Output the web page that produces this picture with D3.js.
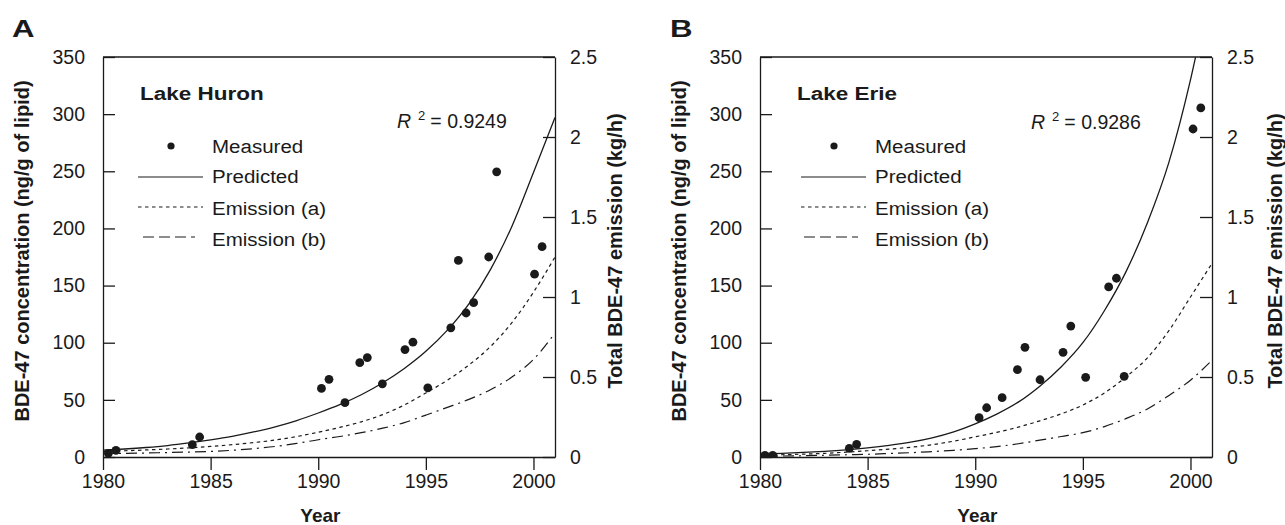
<!DOCTYPE html>
<html>
<head>
<meta charset="utf-8">
<script src="https://cdn.jsdelivr.net/npm/d3@7/dist/d3.min.js"></script>
<style>
    body { margin: 0; background: #fff; }
    svg text { font-family: "Liberation Sans", Arial, Helvetica, sans-serif; fill: #1a1a1a; }
</style>
</head>
<body>
<svg id="chart" width="1285" height="525"></svg>
<script>
// model years shared by all predicted / emission curves
const modelYears = [1980, 1981, 1982, 1983, 1984, 1985, 1986, 1987, 1988, 1989, 1990,
    1991, 1992, 1993, 1994, 1995, 1996, 1997, 1998, 1999, 2000, 2001];

const yearTicks = [1980, 1985, 1990, 1995, 2000];
const concTicks = [0, 50, 100, 150, 200, 250, 300, 350];
const emissionTicks = [0, 0.5, 1, 1.5, 2, 2.5];
const legendLabels = ["Measured", "Predicted", "Emission (a)", "Emission (b)"];

// Lake Huron
const huronMeasured = [
    [1980.25, 3.2], [1980.6, 5.8], [1984.15, 10.8], [1984.49, 17.5],
    [1990.15, 60], [1990.5, 68], [1991.24, 47.5], [1991.93, 82.5], [1992.28, 87],
    [1992.98, 64], [1994.03, 94], [1994.4, 100.5], [1995.09, 60.5], [1996.16, 113],
    [1996.51, 172], [1996.87, 126], [1997.22, 135], [1997.92, 175], [1998.29, 249.5],
    [2000.05, 160], [2000.4, 184]
];
const huronPredicted = [6, 7, 8.3, 10, 12.3, 15, 18.1, 21.9, 26.4, 31.9, 38.5,
    45.8, 54.5, 65, 77.5, 92.5, 111, 134, 164, 202, 249, 297];
const huronEmissionA = [0.035, 0.039, 0.044, 0.05, 0.057, 0.066, 0.077, 0.09, 0.106, 0.128, 0.155,
    0.185, 0.22, 0.265, 0.325, 0.4, 0.48, 0.575, 0.69, 0.84, 1.03, 1.25];
const huronEmissionB = [0.021, 0.023, 0.025, 0.028, 0.031, 0.035, 0.042, 0.052, 0.066, 0.085, 0.108,
    0.128, 0.152, 0.18, 0.215, 0.262, 0.31, 0.36, 0.42, 0.5, 0.61, 0.775];

// Lake Erie
const erieMeasured = [
    [1980.23, 1.5], [1980.59, 1.5], [1984.15, 7.6], [1984.49, 11.1],
    [1990.18, 34.4], [1990.53, 43.1], [1991.25, 51.9], [1991.96, 76.4], [1992.31, 96],
    [1993.01, 67.6], [1994.08, 91.6], [1994.44, 114.6], [1995.13, 69.7], [1996.2, 148.8],
    [1996.56, 156.4], [1996.92, 70.6], [2000.12, 287], [2000.48, 305.4]
];
const eriePredicted = [2.5, 3.2, 4, 5, 6.3, 8, 10.2, 13, 16.8, 22, 29,
    37.5, 48, 62, 79, 100, 128, 162, 205, 258, 330, 420];
const erieEmissionA = [0.011, 0.014, 0.018, 0.023, 0.03, 0.039, 0.049, 0.061, 0.077, 0.099, 0.126,
    0.154, 0.187, 0.226, 0.27, 0.325, 0.4, 0.5, 0.62, 0.79, 1.0, 1.21];
const erieEmissionB = [0.004, 0.006, 0.008, 0.011, 0.014, 0.017, 0.022, 0.027, 0.034, 0.042, 0.052,
    0.065, 0.083, 0.105, 0.128, 0.152, 0.19, 0.24, 0.3, 0.385, 0.48, 0.605];

const INK = "#1a1a1a";

// the original lettering is drawn a little wider than the font, so scale around the anchor
function widen(sel, k) {
    sel.each(function () {
        const t = d3.select(this);
        const x = +t.attr("x") || 0;
        t.attr("transform", `translate(${x * (1 - k)},0) scale(${k},1)`);
    });
    return sel;
}

class LakePanel {
    constructor(svg, cfg) {
        this.svg = svg;
        this.cfg = cfg;
        this.top = 57;
        this.bottom = 457;
    }

    draw() {
        const c = this.cfg;
        const svg = this.svg;

        this.x = d3.scaleLinear().domain([1980, 2001]).range([c.left, c.right]);
        this.y = d3.scaleLinear().domain([0, 350]).range([this.bottom, this.top]);
        this.yR = d3.scaleLinear().domain([0, 2.5]).range([this.bottom, this.top]);

        const g = svg.append("g").attr("class", "panel-" + c.id);

        const clipId = "clip-" + c.id;
        svg.append("clipPath").attr("id", clipId)
            .append("rect")
            .attr("x", c.left).attr("y", this.top)
            .attr("width", c.right - c.left).attr("height", this.bottom - this.top);

        // axes
        const xAxis = g.append("g")
            .attr("transform", `translate(0,${this.bottom})`)
            .call(d3.axisBottom(this.x).tickValues(yearTicks).tickFormat(d3.format("d"))
                .tickSize(13).tickSizeOuter(0).tickPadding(4));
        const yAxis = g.append("g")
            .attr("transform", `translate(${c.left},0)`)
            .call(d3.axisLeft(this.y).tickValues(concTicks)
                .tickSize(-12).tickSizeOuter(0).tickPadding(18));
        const yAxisR = g.append("g")
            .attr("transform", `translate(${c.right},0)`)
            .call(d3.axisRight(this.yR).tickValues(emissionTicks).tickFormat(d => String(d))
                .tickSize(-12).tickSizeOuter(0).tickPadding(15));

        [xAxis, yAxis, yAxisR].forEach(a => {
            a.selectAll("path, line").attr("stroke", INK).attr("stroke-width", 1.3);
            a.selectAll("text")
                .attr("fill", INK)
                .style("font-size", "19.5px")
                .style("font-family", "'Liberation Sans', Arial, sans-serif");
        });

        g.append("line")
            .attr("x1", c.left).attr("x2", c.right)
            .attr("y1", this.top).attr("y2", this.top)
            .attr("stroke", INK).attr("stroke-width", 1.3);

        // curves
        const curves = g.append("g").attr("clip-path", `url(#${clipId})`);

        const concLine = d3.line()
            .x((d, i) => this.x(modelYears[i]))
            .y(d => this.y(d))
            .curve(d3.curveMonotoneX);
        const emisLine = d3.line()
            .x((d, i) => this.x(modelYears[i]))
            .y(d => this.yR(d))
            .curve(d3.curveMonotoneX);

        curves.append("path")
            .datum(c.emissionB)
            .attr("d", emisLine)
            .attr("fill", "none").attr("stroke", INK).attr("stroke-width", 1.2)
            .attr("stroke-dasharray", "11,5,2,5");
        curves.append("path")
            .datum(c.emissionA)
            .attr("d", emisLine)
            .attr("fill", "none").attr("stroke", INK).attr("stroke-width", 1.2)
            .attr("stroke-dasharray", "3.5,3.5");
        curves.append("path")
            .datum(c.predicted)
            .attr("d", concLine)
            .attr("fill", "none").attr("stroke", INK).attr("stroke-width", 1.3);

        curves.selectAll(".data-point")
            .data(c.measured)
            .enter()
            .append("circle")
            .attr("class", "data-point")
            .attr("cx", d => this.x(d[0]))
            .attr("cy", d => this.y(d[1]))
            .attr("r", 4.4)
            .attr("fill", INK);

        // panel letter and lake name
        widen(svg.append("text")
            .attr("x", c.letterX).attr("y", 37)
            .style("font-size", "24px").style("font-weight", "bold")
            .text(c.letter), 1.3);

        widen(svg.append("text")
            .attr("x", c.titleX).attr("y", 100)
            .style("font-size", "18px").style("font-weight", "bold")
            .text(c.title), 1.25);

        // legend
        const lg = c.legend;
        svg.append("circle")
            .attr("cx", lg.dotX).attr("cy", 146).attr("r", 3.6).attr("fill", INK);
        const rows = [
            {y: 177, dash: null, x1: lg.lineX1, x2: lg.lineX2},
            {y: 207, dash: "3.5,3.5", x1: lg.lineX1, x2: lg.lineX2},
            {y: 237, dash: "11,5", x1: lg.dashX1, x2: lg.dashX2}
        ];
        rows.forEach(r => {
            svg.append("line")
                .attr("x1", r.x1).attr("x2", r.x2)
                .attr("y1", r.y).attr("y2", r.y)
                .attr("stroke", INK).attr("stroke-width", 1.2)
                .attr("stroke-dasharray", r.dash);
        });
        const baselines = [153, 183, 215, 246];
        legendLabels.forEach((label, i) => {
            widen(svg.append("text")
                .attr("x", lg.textX).attr("y", baselines[i])
                .style("font-size", "19px")
                .text(label), 1.08);
        });

        // R squared
        const r2 = svg.append("text")
            .attr("x", c.r2X).attr("y", c.r2Y)
            .style("font-size", "19.5px");
        r2.append("tspan").style("font-style", "italic").text("R");
        r2.append("tspan").attr("dx", 7).attr("dy", -8).style("font-size", "13px").text("2");
        r2.append("tspan").attr("dx", 5).attr("dy", 8).text("= " + c.r2);

        // axis titles
        const mid = (this.top + this.bottom) / 2 - 6;
        svg.append("text")
            .attr("transform", `translate(${c.left - 74},${mid}) rotate(-90)`)
            .attr("text-anchor", "middle")
            .style("font-size", "20px").style("font-weight", "bold")
            .text("BDE-47 concentration (ng/g of lipid)");
        svg.append("text")
            .attr("transform", `translate(${c.right + c.rightLabelGap},${mid}) rotate(-90)`)
            .attr("text-anchor", "middle")
            .style("font-size", "20px").style("font-weight", "bold")
            .text("Total BDE-47 emission (kg/h)");
        svg.append("text")
            .attr("x", this.x(1990.1)).attr("y", 522)
            .attr("text-anchor", "middle")
            .style("font-size", "19px").style("font-weight", "bold")
            .text("Year");
    }
}

const svg = d3.select("#chart");

new LakePanel(svg, {
    id: "a", letter: "A", letterX: 12, title: "Lake Huron", titleX: 140,
    left: 103, right: 555, rightLabelGap: 67,
    measured: huronMeasured, predicted: huronPredicted,
    emissionA: huronEmissionA, emissionB: huronEmissionB,
    r2: "0.9249", r2X: 397, r2Y: 128,
    legend: {dotX: 171, textX: 212, lineX1: 138, lineX2: 203, dashX1: 143, dashX2: 195}
}).draw();

new LakePanel(svg, {
    id: "b", letter: "B", letterX: 670, title: "Lake Erie", titleX: 797,
    left: 760, right: 1212, rightLabelGap: 70,
    measured: erieMeasured, predicted: eriePredicted,
    emissionA: erieEmissionA, emissionB: erieEmissionB,
    r2: "0.9286", r2X: 1031, r2Y: 129,
    legend: {dotX: 834, textX: 875, lineX1: 801, lineX2: 866, dashX1: 804, dashX2: 858}
}).draw();
</script>
</body>
</html>
